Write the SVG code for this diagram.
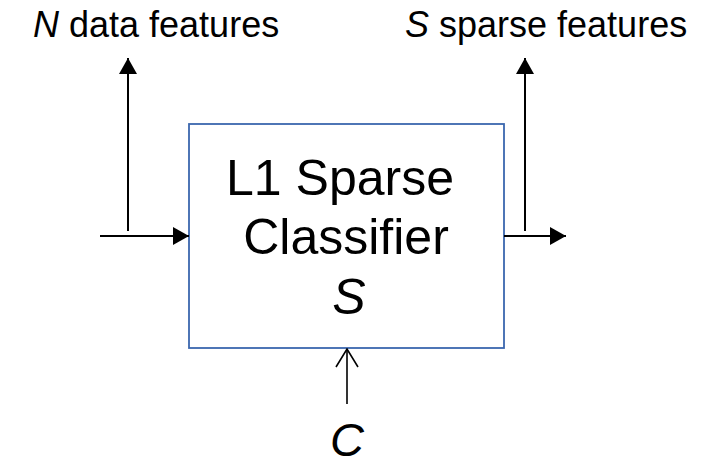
<svg xmlns="http://www.w3.org/2000/svg" width="705" height="467" viewBox="0 0 705 467">
  <defs>
    <marker id="solid" viewBox="0 0 16 18" refX="16" refY="9" markerWidth="16" markerHeight="18" markerUnits="userSpaceOnUse" orient="auto">
      <path d="M0,0 L16,9 L0,18 Z" fill="#000"/>
    </marker>
    <marker id="open" viewBox="0 0 20 24" refX="19" refY="12" markerWidth="20" markerHeight="24" markerUnits="userSpaceOnUse" orient="auto">
      <path d="M1,1 L19,12 L1,23" fill="none" stroke="#000" stroke-width="1.6"/>
    </marker>
    <style>
      text { font-family: "Liberation Sans", Arial, sans-serif; fill: #000; }
      .lbl { font-size: 36px; }
      .box-text { font-size: 50px; text-anchor: middle; }
      .it { font-style: italic; }
      .line { stroke: #000; stroke-width: 2; fill: none; }
      .thin { stroke: #000; stroke-width: 1.6; fill: none; }
    </style>
  </defs>

  <!-- classifier block -->
  <g id="classifier">
    <rect x="189" y="124" width="315" height="224" fill="#fff" stroke="#3B67AE" stroke-width="1.8"/>
    <text class="box-text" x="340" y="195">L1 Sparse</text>
    <text class="box-text" x="346" y="254">Classifier</text>
    <text class="box-text it" x="349" y="314">S</text>
  </g>

  <!-- labels -->
  <g id="input-label">
    <text class="lbl" x="33" y="37"><tspan class="it">N</tspan> data features</text>
  </g>
  <g id="output-label">
    <text class="lbl" x="405" y="37"><tspan class="it">S</tspan> sparse features</text>
  </g>
  <g id="parameter-label">
    <text class="it" x="347" y="456" font-size="47" text-anchor="middle">C</text>
  </g>

  <!-- connectors -->
  <g id="connectors">
    <line class="line" x1="100" y1="236" x2="189" y2="236" marker-end="url(#solid)"/>
    <line class="line" x1="128" y1="231" x2="128" y2="58" marker-end="url(#solid)"/>
    <line class="line" x1="504" y1="236" x2="566" y2="236" marker-end="url(#solid)"/>
    <line class="line" x1="525" y1="231" x2="525" y2="58" marker-end="url(#solid)"/>
    <line class="thin" x1="347" y1="404" x2="347" y2="349" marker-end="url(#open)"/>
  </g>
</svg>
